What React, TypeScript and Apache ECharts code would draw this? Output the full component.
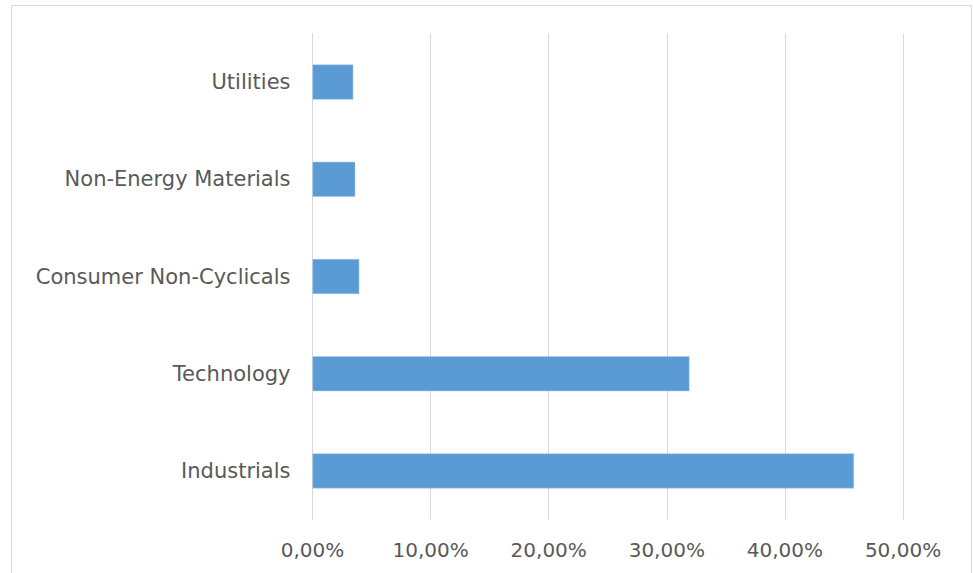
import React, { useEffect, useRef } from "react";
import * as echarts from "echarts";

const categories = ["Industrials", "Technology", "Consumer Non-Cyclicals", "Non-Energy Materials", "Utilities"];
const values = [45.85, 31.92, 3.96, 3.62, 3.45];
const ticks = [0, 10, 20, 30, 40, 50];

export default function App() {
  const ref = useRef<HTMLDivElement>(null);
  useEffect(() => {
    document.body.style.margin = "0";
    const chart = echarts.init(ref.current!, null, { renderer: "svg" });
    chart.setOption({
      animation: false,
      backgroundColor: "#ffffff",
      textStyle: { fontFamily: "DejaVu Sans" },
      graphic: [
        {
          type: "rect",
          shape: { x: 11.5, y: 5.5, width: 960, height: 600 },
          style: { fill: "none", stroke: "#d9d9d9", lineWidth: 1 },
          silent: true,
        },
      ],
      grid: { left: 312.5, right: 70, top: 33.5, bottom: 53.5, containLabel: false },
      xAxis: {
        type: "value",
        min: ticks[0],
        max: ticks[ticks.length - 1],
        interval: 10,
        axisLine: { show: false },
        axisTick: { show: false },
        splitLine: { show: true, lineStyle: { color: "#d9d9d9", width: 1 } },
        axisLabel: {
          color: "#595959",
          fontSize: 20,
          margin: 20,
          formatter: (v: number) => v.toFixed(2).replace(".", ",") + "%",
        },
      },
      yAxis: {
        type: "category",
        data: categories,
        axisLine: { show: true, lineStyle: { color: "#d9d9d9", width: 1 } },
        axisTick: { show: false },
        axisLabel: { color: "#595959", fontSize: 21, margin: 22 },
      },
      series: [
        {
          type: "bar",
          data: values,
          barCategoryGap: "64%",
          itemStyle: { color: "#5b9bd5", borderColor: "#a9c9ea", borderWidth: 0.5 },
        },
      ],
    });
    return () => chart.dispose();
  }, []);
  return <div ref={ref} style={{ width: 973, height: 573 }} />;
}
